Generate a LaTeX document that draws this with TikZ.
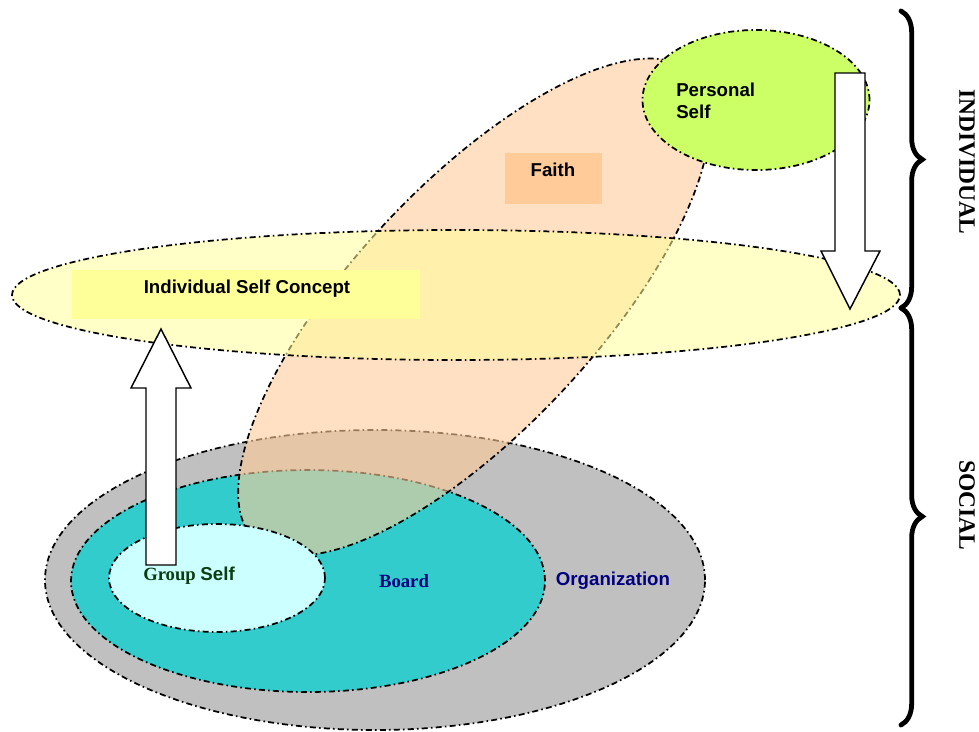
\documentclass[tikz,border=0pt]{standalone}
\usepackage{fontspec}
\setmainfont{Liberation Serif}
\newfontfamily\arialfont{Liberation Sans}
\usetikzlibrary{shapes.geometric,decorations.pathreplacing}

\definecolor{orggray}{HTML}{C0C0C0}
\definecolor{boardteal}{HTML}{33CCCC}
\definecolor{groupcyan}{HTML}{CCFFFF}
\definecolor{faithpeach}{HTML}{FFCC99}
\definecolor{iscyellow}{HTML}{FFFF99}
\definecolor{personalgreen}{HTML}{CCFF66}
\definecolor{darkgreen}{HTML}{0B3D12}
\definecolor{navytext}{HTML}{000080}

\tikzset{
  dashdotline/.style={draw=black, line width=1.3pt,
    dash pattern=on 4.5pt off 2.4pt on 1.2pt off 2.4pt},
  blob/.style={ellipse, inner sep=0pt, dashdotline},
  sanslabel/.style={font=\arialfont\bfseries\fontsize{14}{16.5}\selectfont, inner sep=0pt},
  seriflabel/.style={font=\bfseries\fontsize{14}{16.5}\selectfont, inner sep=0pt},
  sidelabel/.style={font=\bfseries\fontsize{17.6}{20}\selectfont, inner sep=0pt, rotate=-90},
  flatbox/.style={rectangle, inner sep=0pt, draw=none},
  blockarrow/.style={fill=white, draw=black, line width=1.1pt, line join=miter},
  bigbrace/.style={decorate, decoration={brace, amplitude=16pt, aspect=0.5},
    line width=3.6pt, line cap=round}
}

\begin{document}
\begin{tikzpicture}[x=0.75pt, y=-0.75pt]
\useasboundingbox (0,0) rectangle (979,732);

% social circles
\node[blob, fill=orggray, minimum width=495pt, minimum height=225pt] (org) at (375,580) {};
\node[blob, fill=boardteal, minimum width=355.5pt, minimum height=166.5pt] (board) at (308,581) {};

% faith, tilted and see-through
\node[ellipse, inner sep=0pt, minimum width=480pt, minimum height=183pt, rotate=47,
      fill=faithpeach, fill opacity=0.6, dashdotline] (faith) at (474,307) {};

\node[blob, fill=groupcyan, minimum width=162pt, minimum height=81pt] (group) at (217,578) {};

% individual self concept band
\node[blob, fill=iscyellow, fill opacity=0.55, minimum width=666pt, minimum height=97.5pt] (isc) at (456,295) {};

\node[blob, fill=personalgreen, minimum width=170.25pt, minimum height=105pt] (personal) at (756,100) {};

% label boxes
\node[flatbox, fill=iscyellow, minimum width=261pt, minimum height=36.75pt] (iscbox) at (246,294.5) {};
\node[flatbox, fill=faithpeach, minimum width=72.75pt, minimum height=38.25pt] (faithbox) at (553.5,178.5) {};

% texts
\node[sanslabel] (isctext) at (247,289) {Individual Self Concept};
\node[sanslabel] (faithtext) at (553,170) {Faith};
\node[sanslabel, anchor=west, align=left] (personaltext) at (676,101) {Personal\\Self};
\node[inner sep=0pt, text=darkgreen] (grouptext) at (189,576)
  {\fontsize{14}{16.5}\selectfont\bfseries Group {\arialfont Self}};
\node[seriflabel, text=navytext] (boardtext) at (404,581) {Board};
\node[sanslabel, text=navytext] (orgtext) at (613,581) {Organization};

% block arrows
\draw[blockarrow] (835,73) -- (865,73) -- (865,251) -- (880,251) -- (850,309)
  -- (821,251) -- (835,251) -- cycle;
\draw[blockarrow] (146,565) -- (176,565) -- (176,388) -- (191,388) -- (161,329)
  -- (131,388) -- (146,388) -- cycle;

% braces and side labels
\coordinate (bTop) at (901,11);
\coordinate (bMid) at (901,308);
\coordinate (bBot) at (901,725);
\draw[bigbrace] (bTop) -- (bMid);
\draw[bigbrace] (bMid) -- (bBot);
\node[sidelabel] (indiv) at (967,162) {INDIVIDUAL};
\node[sidelabel] (social) at (967,505) {SOCIAL};
\end{tikzpicture}
\end{document}
